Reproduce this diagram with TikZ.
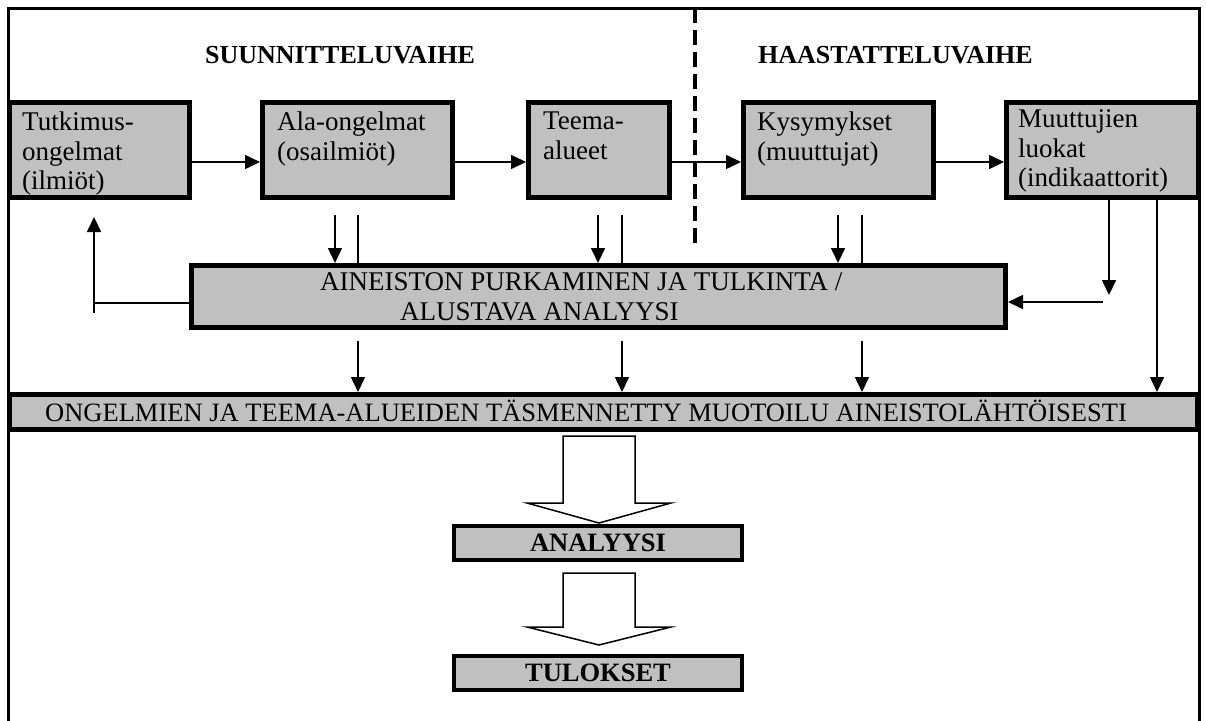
\documentclass[tikz,border=0pt]{standalone}
\usepackage{fontspec}
\setmainfont{Liberation Serif}
\usetikzlibrary{arrows.meta}
\definecolor{boxgray}{RGB}{192,192,192}
\begin{document}
\begin{tikzpicture}[x=1pt,y=-1pt,
  box/.style={draw=black, line width=5pt, fill=boxgray, inner sep=0pt},
  smallbox/.style={draw=black, line width=4pt, fill=boxgray, inner sep=0pt,
    minimum width=288pt, minimum height=34pt,
    font=\fontsize{26.5}{30}\selectfont\bfseries},
  boxtext/.style={inner sep=0pt, anchor=north west, align=left,
    font=\fontsize{27}{29.5}\selectfont},
  headline/.style={inner sep=0pt, anchor=base west,
    font=\fontsize{26}{30}\selectfont\bfseries},
  frame/.style={line width=3pt},
  ln/.style={line width=1.6pt},
  arr/.style={line width=1.6pt, -{Triangle[width=14pt,length=15pt]}},
  hollow/.style={line width=1.5pt, fill=white, line join=miter},
  phase/.style={line width=3.3pt, dash pattern=on 15pt off 7pt}
]
\useasboundingbox (0,0) rectangle (1206,720);

% outer frame (open at the bottom)
\draw[frame] (8.5,725) -- (8.5,8.5) -- (1199.5,8.5) -- (1199.5,725);

% phase divider
\coordinate (dtop) at (695,8);
\coordinate (dbot) at (695,246);
\draw[phase] (dtop) -- (dbot);

% phase headings
\node[headline] (h1) at (205,63) {SUUNNITTELUVAIHE};
\node[headline] (h2) at (758,63) {HAASTATTELUVAIHE};

% top row of boxes
\node[box, minimum width=180pt, minimum height=95pt] (b1) at (99.5,150) {};
\node[box, minimum width=190pt, minimum height=95pt] (b2) at (357.5,150) {};
\node[box, minimum width=141pt, minimum height=95pt] (b3) at (599,150) {};
\node[box, minimum width=190pt, minimum height=95pt] (b4) at (838.5,150) {};
\node[box, minimum width=192pt, minimum height=95pt] (b5) at (1102.5,150) {};

\node[boxtext] (t1) at (22,111.6) {Tutkimus-\\ongelmat\\(ilmiöt)};
\node[boxtext] (t2) at (277,111.6) {Ala-ongelmat\\(osailmiöt)};
\node[boxtext] (t3) at (543,112.1) {Teema-\\alueet};
\node[boxtext] (t4) at (757,111.6) {Kysymykset\\(muuttujat)};
\node[boxtext] (t5) at (1018,109.6) {Muuttujien\\luokat\\(indikaattorit)};

% interpretation box
\node[box, minimum width=814pt, minimum height=62pt] (ain) at (598.5,296.5) {};
\node[boxtext, font=\fontsize{27}{30}\selectfont] (ta) at (320,272.1)
  {AINEISTON PURKAMINEN JA TULKINTA /\\\hspace*{80pt}ALUSTAVA ANALYYSI};

% reformulation bar
\node[box, minimum width=1188pt, minimum height=35pt] (ong) at (603.5,412) {};
\node[inner sep=0pt, anchor=base west, font=\fontsize{26.5}{30}\selectfont] (to) at (45,421)
  {ONGELMIEN JA TEEMA-ALUEIDEN TÄSMENNETTY MUOTOILU AINEISTOLÄHTÖISESTI};

% analysis and results
\node[smallbox] (ana) at (598,543) {ANALYYSI};
\node[smallbox] (tul) at (598,673) {TULOKSET};

% chain along the top row
\draw[arr] ([yshift=-12pt]b1.east) -- ([yshift=-12pt]b2.west);
\draw[arr] ([yshift=-12pt]b2.east) -- ([yshift=-12pt]b3.west);
\draw[arr] ([yshift=-12pt]b3.east) -- ([yshift=-12pt]b4.west);
\draw[arr] ([yshift=-12pt]b4.east) -- ([yshift=-12pt]b5.west);

% links from the top row down to the interpretation box
\coordinate (p2a) at (335,215); \coordinate (p2b) at (358,215);
\coordinate (p3a) at (598,215); \coordinate (p3b) at (622,215);
\coordinate (p4a) at (838,215); \coordinate (p4b) at (862,215);
\draw[arr] (p2a) -- (p2a |- ain.north);
\draw[ln]  (p2b) -- (p2b |- ain.north);
\draw[arr] (p3a) -- (p3a |- ain.north);
\draw[ln]  (p3b) -- (p3b |- ain.north);
\draw[arr] (p4a) -- (p4a |- ain.north);
\draw[ln]  (p4b) -- (p4b |- ain.north);

% links from the interpretation box down to the bar
\coordinate (q2) at (358,341); \coordinate (q3) at (622,341); \coordinate (q4) at (862,341);
\draw[arr] (q2) -- (q2 |- ong.north);
\draw[arr] (q3) -- (q3 |- ong.north);
\draw[arr] (q4) -- (q4 |- ong.north);

% feedback to the research problems
\coordinate (fbc) at (94,303);
\coordinate (fbl) at (94,313);
\coordinate (fbt) at (94,217);
\draw[ln] (ain.west |- fbc) -- (fbc);
\draw[arr] (fbl) -- (fbt);

% links from the variable classes
\coordinate (r1t) at (1109,295);
\coordinate (r1h) at (1103,302);
\coordinate (r2) at (1157,300);
\draw[arr] (r1t |- b5.south) -- (r1t);
\draw[arr] (r1h) -- (r1h -| ain.east);
\draw[arr] (r2 |- b5.south) -- (r2 |- ong.north);

% block arrows
\draw[hollow] (563,436) -- (563,503) -- (527,503) -- (599,523) -- (671,503)
  -- (635,503) -- (635,436) -- cycle;
\draw[hollow] (563,573) -- (563,627) -- (527,627) -- (599,645) -- (671,627)
  -- (635,627) -- (635,573) -- cycle;
\end{tikzpicture}
\end{document}
